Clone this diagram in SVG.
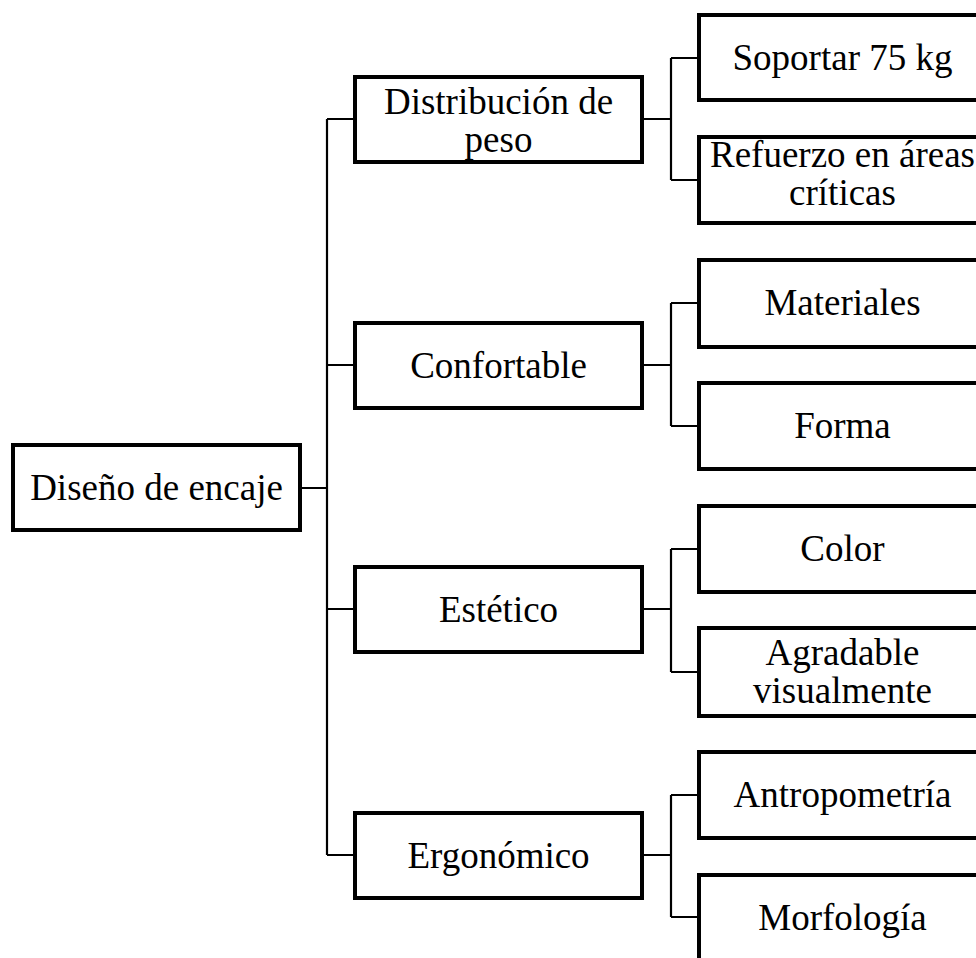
<svg xmlns="http://www.w3.org/2000/svg" width="976" height="958" viewBox="0 0 976 958">
<style>
.box{fill:#fff;stroke:#000;stroke-width:4}
.c{fill:none;stroke:#000;stroke-width:2.2}
text{font-family:"Liberation Serif","Times New Roman",serif;font-size:37px;fill:#000;text-anchor:middle}
</style>
<rect width="976" height="958" fill="#fff"/>
<g id="connectors">
<path class="c" d="M302 488H327M327 119V855M327 119H355M327 365H355M327 609H355M327 855H355"/>
<path class="c" d="M642 119H671M671 58V180M671 58H699M671 180H699"/>
<path class="c" d="M642 365H671M671 303V426M671 303H699M671 426H699"/>
<path class="c" d="M642 609H671M671 549V672M671 549H699M671 672H699"/>
<path class="c" d="M642 855H671M671 795V917M671 795H699M671 917H699"/>
</g>
<g id="root"><rect class="box" x="13" y="445" width="287" height="85"/><text x="156.5" y="500">Diseño de encaje</text></g>
<g id="distribucion"><rect class="box" x="355" y="77" width="287" height="85"/><text x="498.5" y="114">Distribución de</text><text x="498.5" y="152">peso</text></g>
<g id="confortable"><rect class="box" x="355" y="323" width="287" height="85"/><text x="498.5" y="378">Confortable</text></g>
<g id="estetico"><rect class="box" x="355" y="567" width="287" height="85"/><text x="498.5" y="622">Estético</text></g>
<g id="ergonomico"><rect class="box" x="355" y="813" width="287" height="85"/><text x="498.5" y="868">Ergonómico</text></g>
<g id="soportar"><rect class="box" x="699" y="15" width="290" height="85"/><text x="842.5" y="70">Soportar 75 kg</text></g>
<g id="refuerzo"><rect class="box" x="699" y="137" width="290" height="86"/><text x="842.5" y="167">Refuerzo en áreas</text><text x="842.5" y="205">críticas</text></g>
<g id="materiales"><rect class="box" x="699" y="260" width="290" height="87"/><text x="842.5" y="315">Materiales</text></g>
<g id="forma"><rect class="box" x="699" y="383" width="290" height="86"/><text x="842.5" y="438">Forma</text></g>
<g id="color"><rect class="box" x="699" y="506" width="290" height="86"/><text x="842.5" y="561">Color</text></g>
<g id="agradable"><rect class="box" x="699" y="628" width="290" height="88"/><text x="842.5" y="665">Agradable</text><text x="842.5" y="703">visualmente</text></g>
<g id="antropometria"><rect class="box" x="699" y="752" width="290" height="86"/><text x="842.5" y="807">Antropometría</text></g>
<g id="morfologia"><rect class="box" x="699" y="875" width="290" height="86"/><text x="842.5" y="930">Morfología</text></g>
</svg>
